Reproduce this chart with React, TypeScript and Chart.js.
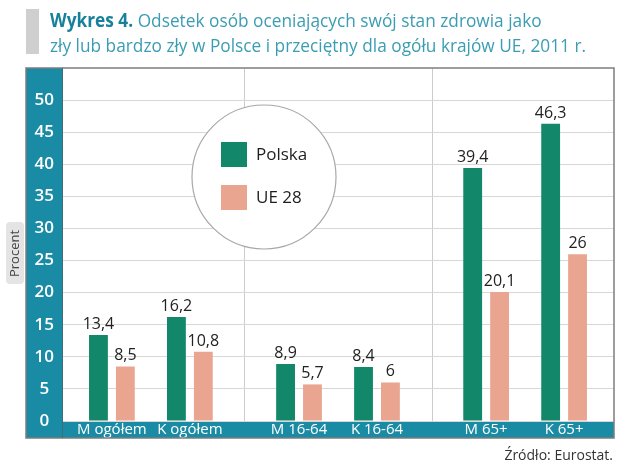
import React, { useEffect, useRef } from 'react';
import { Chart, registerables } from 'chart.js';

Chart.register(...registerables);

const categories = ['M ogółem', 'K ogółem', 'M 16-64', 'K 16-64', 'M 65+', 'K 65+'];
const groupOf = [0, 0, 1, 1, 2, 2];
const polska = [13.4, 16.2, 8.9, 8.4, 39.4, 46.3];
const ue28 = [8.5, 10.8, 5.7, 6, 20.1, 26];
const yTicks = [0, 5, 10, 15, 20, 25, 30, 35, 40, 45, 50];
const seriesLabels = ['Polska', 'UE 28'];
const titleBold = 'Wykres 4.';
const titleLine1 = ' Odsetek osób oceniających swój stan zdrowia jako';
const titleLine2 = 'zły lub bardzo zły w Polsce i przeciętny dla ogółu krajów UE, 2011 r.';
const sourceText = 'Źródło: Eurostat.';
const yAxisTitle = 'Procent';

const GROUP_GAP = 0.4;
const xPos = categories.map((_, i) => i + groupOf[i] * GROUP_GAP);

const TEAL = '#1a8ba5';
const GREEN = '#12876a';
const PINK = '#e9a590';
const FONT = "'Open Sans', 'Noto Sans', sans-serif";

const fmt = (v: number) => String(v).replace('.', ',');

const decorPlugin = {
  id: 'decor',
  beforeDraw(chart: any) {
    const { ctx, chartArea } = chart;
    const xs = chart.scales.x;
    const ys = chart.scales.y;
    ctx.save();
    // teal strips
    ctx.fillStyle = TEAL;
    ctx.fillRect(ys.left, chartArea.top, ys.right - ys.left, xs.bottom - chartArea.top);
    ctx.fillRect(chartArea.left, xs.top, chartArea.right - chartArea.left, xs.bottom - xs.top);
    // group separators
    ctx.strokeStyle = '#cccccc';
    ctx.lineWidth = 1;
    for (let i = 1; i < xPos.length; i++) {
      if (groupOf[i] !== groupOf[i - 1]) {
        const px = Math.round(xs.getPixelForValue((xPos[i] + xPos[i - 1]) / 2)) + 0.5;
        ctx.beginPath();
        ctx.moveTo(px, chartArea.top);
        ctx.lineTo(px, chartArea.bottom);
        ctx.stroke();
      }
    }
    // title
    ctx.fillStyle = '#cfcfcf';
    ctx.fillRect(26, 9, 13, 45);
    ctx.textBaseline = 'alphabetic';
    ctx.textAlign = 'left';
    ctx.font = `19px ${FONT}`;
    const sx = 536 / ctx.measureText(titleLine2).width;
    ctx.save();
    ctx.translate(50, 0);
    ctx.scale(sx, 1);
    ctx.font = `bold 19px ${FONT}`;
    ctx.fillStyle = '#17809a';
    ctx.fillText(titleBold, 0, 27);
    const w = ctx.measureText(titleBold).width;
    ctx.font = `19px ${FONT}`;
    ctx.fillStyle = '#3b9db3';
    ctx.fillText(titleLine1, w, 27);
    ctx.fillText(titleLine2, 0, 52);
    ctx.restore();
    // source
    ctx.font = `14px ${FONT}`;
    ctx.fillStyle = '#333';
    ctx.textAlign = 'right';
    ctx.fillText(sourceText, 613, 460);
    // y axis title box
    ctx.fillStyle = '#e4e4e4';
    ctx.beginPath();
    (ctx as any).roundRect(6, 222, 18, 62, 4);
    ctx.fill();
    ctx.translate(15.5, 253.5);
    ctx.rotate(-Math.PI / 2);
    ctx.font = `13px ${FONT}`;
    ctx.fillStyle = '#444';
    ctx.textAlign = 'center';
    ctx.textBaseline = 'middle';
    ctx.fillText(yAxisTitle, 0, 0);
    ctx.restore();
  },
  afterDraw(chart: any) {
    const { ctx, chartArea } = chart;
    const xs = chart.scales.x;
    const ys = chart.scales.y;
    ctx.save();
    // frame
    ctx.strokeStyle = '#7d7d7d';
    ctx.lineWidth = 1.5;
    ctx.strokeRect(ys.left, chartArea.top, chartArea.right - ys.left, xs.bottom - chartArea.top);
    ctx.strokeStyle = '#3d6d78';
    ctx.lineWidth = 1;
    ctx.beginPath();
    ctx.moveTo(chartArea.left + 0.5, chartArea.top);
    ctx.lineTo(chartArea.left + 0.5, xs.bottom);
    ctx.stroke();
    // data labels
    ctx.font = `16px ${FONT}`;
    ctx.fillStyle = '#222';
    ctx.textAlign = 'center';
    ctx.textBaseline = 'alphabetic';
    chart.data.datasets.forEach((ds: any, d: number) => {
      const meta = chart.getDatasetMeta(d);
      meta.data.forEach((bar: any, i: number) => {
        ctx.fillText(fmt(ds.data[i].y), bar.x, bar.y - 6);
      });
    });
    // legend circle
    const cx = chartArea.left + 202;
    const cy = chartArea.top + 109;
    ctx.beginPath();
    ctx.arc(cx, cy, 72, 0, Math.PI * 2);
    ctx.fillStyle = '#fff';
    ctx.fill();
    ctx.strokeStyle = '#a8a8a8';
    ctx.lineWidth = 1.2;
    ctx.stroke();
    ctx.font = `17px ${FONT}`;
    ctx.textAlign = 'left';
    ctx.textBaseline = 'middle';
    chart.data.datasets.forEach((ds: any, d: number) => {
      const top = cy - 35 + d * 43;
      ctx.fillStyle = ds.backgroundColor;
      ctx.fillRect(cx - 43, top, 26, 25);
      ctx.fillStyle = '#1e1e1e';
      ctx.fillText(ds.label, cx - 8, top + 13);
    });
    ctx.restore();
  },
};

export default function App() {
  const ref = useRef<HTMLCanvasElement>(null);
  useEffect(() => {
    if (!ref.current) return;
    const makeData = (vals: number[]) => vals.map((v, i) => ({ x: xPos[i], y: v }));
    const chart = new Chart(ref.current, {
      type: 'bar',
      data: {
        datasets: [
          {
            label: seriesLabels[0],
            data: makeData(polska),
            backgroundColor: GREEN,
            categoryPercentage: 0.69,
            barPercentage: 0.7,
          },
          {
            label: seriesLabels[1],
            data: makeData(ue28),
            backgroundColor: PINK,
            categoryPercentage: 0.69,
            barPercentage: 0.7,
          },
        ],
      } as any,
      options: {
        responsive: false,
        animation: false,
        layout: { padding: { left: 26, top: 68, right: 9, bottom: 27 } },
        plugins: {
          legend: { display: false },
          tooltip: { enabled: false },
          title: { display: false },
        },
        scales: {
          x: {
            type: 'linear',
            offset: false,
            min: -0.64,
            max: 6.44,
            grid: { display: false, drawTicks: false, offset: false },
            border: { display: false },
            afterBuildTicks: (s: any) => {
              s.ticks = xPos.map((v) => ({ value: v }));
            },
            afterFit: (s: any) => {
              s.height = 17;
            },
            ticks: {
              color: '#fff',
              font: { family: FONT, size: 15 },
              padding: 0,
              autoSkip: false,
              maxRotation: 0,
              callback: (v: any) => {
                const idx = xPos.findIndex((p) => Math.abs(p - Number(v)) < 1e-6);
                return idx >= 0 ? categories[idx] : '';
              },
            },
          },
          y: {
            min: 0,
            max: 55,
            afterBuildTicks: (s: any) => {
              s.ticks = yTicks.map((v) => ({ value: v }));
            },
            afterFit: (s: any) => {
              s.width = 36;
            },
            grid: { color: '#d8d8d8', drawTicks: false, lineWidth: 1 },
            border: { display: false },
            ticks: {
              color: '#fff',
              font: { family: FONT, size: 17, weight: '600' },
              crossAlign: 'center',
              padding: 8,
            },
          },
        },
      } as any,
      plugins: [decorPlugin],
    });
    return () => chart.destroy();
  }, []);
  return (
    <div style={{ position: 'fixed', left: 0, top: 0, width: 623, height: 465, background: '#fff' }}>
      <canvas ref={ref} width={623} height={465} />
    </div>
  );
}
